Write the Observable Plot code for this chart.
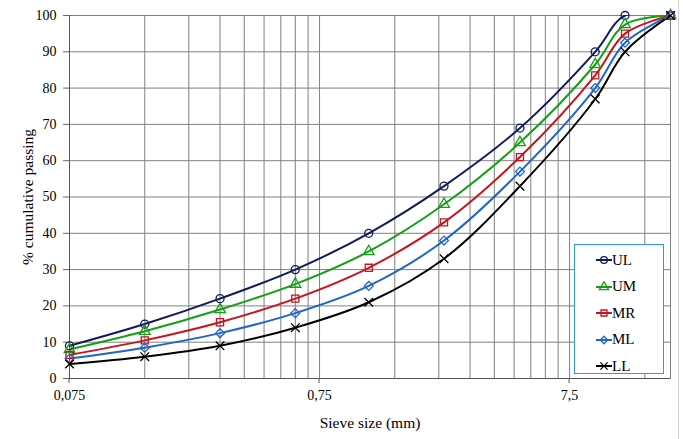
<!DOCTYPE html>
<html>
<head>
<meta charset="utf-8">
<script src="https://cdn.jsdelivr.net/npm/d3@7"></script>
<script src="https://cdn.jsdelivr.net/npm/@observablehq/plot@0.6"></script>
<style>
  html, body { margin: 0; padding: 0; background: #fff; }
  #wrap { position: relative; width: 683px; height: 439px; font-family: "Liberation Serif", "Times New Roman", serif; }
  #wrap svg, #wrap svg text { font-family: "Liberation Serif", "Times New Roman", serif !important; }
  #legend { position: absolute; left: 574px; top: 244px; width: 88px; height: 128px; border: 1.5px solid #2b9fc6; background: #fff; }
  #edge { position: absolute; left: 678px; top: 0; width: 1px; height: 439px; background: #d0d0d0; }
  .row { position: absolute; left: 21px; height: 16px; display: flex; align-items: center; font-size: 15px; color: #000; }
</style>
</head>
<body>
<div id="wrap"></div>
<script>
const sieves = [0.075, 0.15, 0.3, 0.6, 1.18, 2.36, 4.75, 9.5, 12.5, 19];
const UL = [9, 15, 22, 30, 40, 53, 69, 90, 100, 100];
const UM = [8, 13, 19, 26, 35, 48, 65, 86.5, 97.5, 100];
const MR = [6.5, 10.5, 15.5, 22, 30.5, 43, 61, 83.5, 95, 100];
const ML = [5.5, 8.5, 12.5, 18, 25.5, 38, 57, 80, 92.5, 100];
const LL = [4, 6, 9, 14, 21, 33, 53, 77, 90, 100];
const seriesNames = ["UL", "UM", "MR", "ML", "LL"];
const seriesValues = [UL, UM, MR, ML, LL];
const seriesColors = ["#121a5c", "#14a014", "#c8141c", "#1f66c6", "#000000"];
const seriesSymbols = ["circle", "triangle", "square", "diamond2", "times"];
const xTicks = [0.075, 0.75, 7.5];
const xTickLabels = ["0,075", "0,75", "7,5"];
const yTicks = [0, 10, 20, 30, 40, 50, 60, 70, 80, 90, 100];

const data = seriesNames.flatMap((s, i) => sieves.map((x, j) => ({series: s, x, y: seriesValues[i][j]})));
const gridX = [1,2,3,4,5,6,7,8,9].flatMap(k => [0.075 * k, 0.75 * k]).concat([7.5, 15]);
const xTickData = xTicks.map((x, i) => ({x, label: xTickLabels[i]}));

const chart = Plot.plot({
  width: 683,
  height: 439,
  marginLeft: 69,
  marginRight: 13,
  marginTop: 15,
  marginBottom: 61,
  style: {fontFamily: "'Liberation Serif', 'Times New Roman', serif", fontSize: "14px", background: "#fff"},
  x: {type: "log", domain: [0.075, 19]},
  y: {domain: [0, 100]},
  color: {domain: seriesNames, range: seriesColors},
  symbol: {domain: seriesNames, range: seriesSymbols},
  marks: [
    Plot.ruleX(gridX, {stroke: "#808080", strokeWidth: 1}),
    Plot.ruleY(yTicks, {stroke: "#808080", strokeWidth: 1}),
    Plot.frame({stroke: "#808080"}),
    Plot.axisX({ticks: [], label: "Sieve size (mm)", labelAnchor: "center", labelArrow: "none", labelOffset: 49, tickSize: 0}),
    Plot.text(xTickData, {x: "x", text: "label", frameAnchor: "bottom", dy: 21, fontSize: 14}),
    Plot.axisY(yTicks, {tickSize: 6, tickFormat: () => "", stroke: "#666",
      label: "% cumulative passing", labelAnchor: "center", labelArrow: "none", labelOffset: 48}),
    Plot.text(yTicks, {y: d => d, text: d => String(d), frameAnchor: "left", dx: -13, textAnchor: "end", fontSize: 14}),
    Plot.ruleX([0.075], {stroke: "#555"}),
    Plot.ruleY([0], {stroke: "#555"}),
    Plot.line(data, {x: "x", y: "y", z: "series", stroke: "series", strokeWidth: 2, curve: "catmull-rom", clip: true}),
    Plot.dot(data, {x: "x", y: "y", stroke: "series", symbol: "series", r: 4, strokeWidth: 1.3, fill: "none"})
  ]
});
chart.querySelectorAll('[aria-label="x-axis label"] text, [aria-label="y-axis label"] text').forEach(t => t.style.fontSize = "15.5px");
const wrap = document.getElementById("wrap");
wrap.appendChild(chart);

// small downward tick marks at labelled x positions
const xs = chart.scale("x");
const ys = chart.scale("y");
const svgSel = d3.select(chart);
xTicks.forEach(v => {
  const px = xs.apply(v);
  svgSel.append("line").attr("x1", px).attr("x2", px).attr("y1", ys.apply(0)).attr("y2", ys.apply(0) + 5)
    .attr("stroke", "#555");
});

const edge = document.createElement("div");
edge.id = "edge";
wrap.appendChild(edge);

const symbolMap = {circle: d3.symbolCircle, triangle: d3.symbolTriangle, square: d3.symbolSquare, diamond2: d3.symbolDiamond2, times: d3.symbolTimes};
const legend = document.createElement("div");
legend.id = "legend";
seriesNames.forEach((s, i) => {
  const row = document.createElement("div");
  row.className = "row";
  row.style.top = (i * 26.5 + 7) + "px";
  const svg = d3.create("svg").attr("width", 16).attr("height", 12);
  svg.append("line").attr("x1", 0).attr("x2", 16).attr("y1", 6).attr("y2", 6)
    .attr("stroke", seriesColors[i]).attr("stroke-width", 2);
  const sym = d3.symbol(symbolMap[seriesSymbols[i]], 36);
  svg.append("path").attr("d", sym()).attr("transform", "translate(8,6)")
    .attr("fill", "none").attr("stroke", seriesColors[i]).attr("stroke-width", 1.3);
  row.appendChild(svg.node());
  const label = document.createElement("span");
  label.textContent = s;
  row.appendChild(label);
  legend.appendChild(row);
});
wrap.appendChild(legend);
</script>
</body>
</html>
